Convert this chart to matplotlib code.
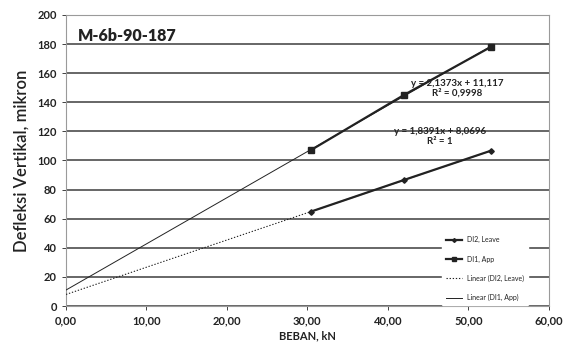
import matplotlib

matplotlib.use("Agg")
import matplotlib.pyplot as plt  # noqa: E402
import numpy as np

# data
beban = [30.4, 42.0, 52.8]
di2_leave = [64.8, 86.6, 106.7]
di1_app = [107.0, 145.0, 178.0]

eq_app = ["y = 2,1373x + 11,117", "R\u00b2 = 0,9998"]
eq_leave = ["y = 1,8391x + 8,0696", "R\u00b2 = 1"]

x_ticks = [0, 10, 20, 30, 40, 50, 60]
x_tick_labels = ["0,00", "10,00", "20,00", "30,00", "40,00", "50,00", "60,00"]
y_ticks = [0, 20, 40, 60, 80, 100, 120, 140, 160, 180, 200]

plt.rcParams["font.family"] = ["Lato", "DejaVu Sans"]
INK = "#222222"
GRID = "#5a5a5a"

fig = plt.figure(figsize=(5.64, 3.47), dpi=100, facecolor="white")
ax = fig.add_axes([0.117, 0.118, 0.856, 0.839])

# linear trendlines, forecast back to x = 0
xs = np.array([0, max(beban)])
k_l, b_l = np.polyfit(beban, di2_leave, 1)
k_a, b_a = np.polyfit(beban, di1_app, 1)

l1, = ax.plot(beban, di2_leave, color=INK, lw=1.6, marker="D", ms=2.8, zorder=4)
l2, = ax.plot(beban, di1_app, color=INK, lw=1.6, marker="s", ms=4.5, zorder=4)
l3, = ax.plot(xs, k_l * xs + b_l, color=INK, lw=0.8, ls=(0, (1.2, 1.6)), zorder=3)
l4, = ax.plot(xs, k_a * xs + b_a, color=INK, lw=0.7, zorder=3)

ax.set_xlim(0, 60)
ax.set_ylim(0, 200)
ax.set_xticks(x_ticks, x_tick_labels)
ax.set_yticks(y_ticks)
ax.yaxis.grid(True, color=GRID, lw=1.3)
ax.set_axisbelow(True)
for s in ax.spines.values():
    s.set_color("#9a9a9a")
    s.set_linewidth(0.8)
ax.tick_params(axis="both", labelsize=8, colors=INK, length=3, width=0.6)
for lab in ax.get_xticklabels() + ax.get_yticklabels():
    lab.set_fontweight("bold")

ax.set_xlabel("BEBAN, kN", fontsize=8, fontweight="bold", color=INK, labelpad=3)
ax.set_ylabel("Defleksi Vertikal, mikron", fontsize=12, fontweight="semibold",
              color=INK, labelpad=6)

ax.text(0.025, 0.955, "M-6b-90-187", transform=ax.transAxes, fontsize=11.5,
        fontweight="heavy", color=INK, va="top", ha="left")

ax.text(48.6, 143, "\n".join(eq_app), fontsize=7, color=INK, ha="center",
        va="bottom", linespacing=1.1, fontweight="bold", zorder=5)
ax.text(46.5, 110, "\n".join(eq_leave), fontsize=7, color=INK, ha="center",
        va="bottom", linespacing=1.1, fontweight="bold", zorder=5)

leg = ax.legend([l1, l2, l3, l4],
                ["DI2, Leave", "DI1, App", "Linear (DI2, Leave)", "Linear (DI1, App)"],
                loc="lower right", bbox_to_anchor=(0.965, -0.01), fontsize=5,
                frameon=True, framealpha=1, edgecolor="white", facecolor="white",
                handlelength=2.2, labelspacing=1.75, borderpad=0.6, markerscale=0.7)
for t in leg.get_texts():
    t.set_color(INK)

fig.savefig("out.png", dpi=100, facecolor="white")
